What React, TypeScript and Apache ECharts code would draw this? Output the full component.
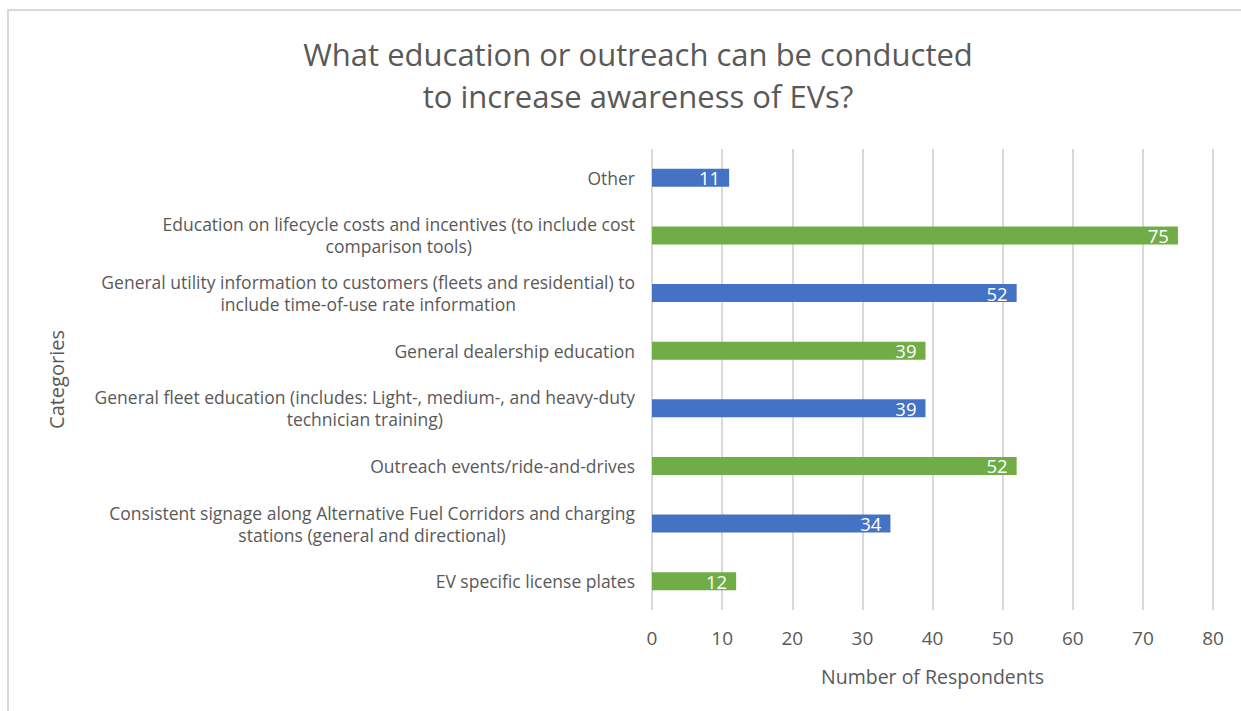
import React, { useEffect, useRef } from "react";
import * as echarts from "echarts";

// bottom to top (ECharts category axis starts at the bottom)
const categories: string[] = [
  "EV specific license plates",
  "Consistent signage along Alternative Fuel Corridors and charging\nstations (general and directional)",
  "Outreach events/ride-and-drives",
  "General fleet education (includes: Light-, medium-, and heavy-duty\ntechnician training)",
  "General dealership education",
  "General utility information to customers (fleets and residential) to\ninclude time-of-use rate information",
  "Education on lifecycle costs and incentives (to include cost\ncomparison tools)",
  "Other",
];
const values: number[] = [12, 34, 52, 39, 39, 52, 75, 11];
const barColors: string[] = ["#70AD47", "#4472C4", "#70AD47", "#4472C4", "#70AD47", "#4472C4", "#70AD47", "#4472C4"];
const xTicks = { min: 0, max: 80, interval: 10 };
const titleText = "What education or outreach can be conducted\nto increase awareness of EVs?";

const FONT = "'Open Sans', sans-serif";
const GRAY = "#595959";

export default function App() {
  const ref = useRef<HTMLDivElement>(null);
  useEffect(() => {
    if (!ref.current) return;
    const chart = echarts.init(ref.current, undefined, { renderer: "svg" });
    chart.setOption({
      animation: false,
      backgroundColor: "#ffffff",
      textStyle: { fontFamily: FONT },
      title: {
        text: titleText,
        left: 633,
        top: 28,
        textAlign: "center",
        textStyle: { fontSize: 31, fontWeight: "normal", color: GRAY, lineHeight: 42, fontFamily: FONT },
      },
      graphic: [
        {
          type: "rect",
          shape: { x: 8, y: 10, width: 1400, height: 900 },
          style: { fill: "none", stroke: "#d9d9d9", lineWidth: 2 },
          silent: true,
          z: -1,
        },
      ],
      grid: { left: 652, right: 28, top: 149, bottom: 101, containLabel: false },
      xAxis: {
        type: "value",
        min: xTicks.min,
        max: xTicks.max,
        interval: xTicks.interval,
        name: "Number of Respondents",
        nameLocation: "middle",
        nameGap: 56,
        nameTextStyle: { fontSize: 19.5, color: GRAY, fontFamily: FONT },
        axisLine: { show: false },
        axisTick: { show: false },
        axisLabel: { fontSize: 19, color: GRAY, margin: 18, fontFamily: FONT },
        splitLine: { show: true, lineStyle: { color: "#d9d9d9", width: 2 } },
      },
      yAxis: {
        type: "category",
        data: categories,
        name: "Categories",
        nameLocation: "middle",
        nameRotate: 90,
        nameGap: 586,
        nameTextStyle: { fontSize: 20, color: GRAY, fontFamily: FONT },
        axisLine: { show: false },
        axisTick: { show: false },
        axisLabel: {
          margin: 17,
          color: GRAY,
          fontSize: 17.5,
          fontFamily: FONT,
          formatter: (v: string) => v.split("\n").map((l) => `{c|${l}}`).join("\n"),
          rich: {
            c: { align: "center", fontSize: 17.5, color: GRAY, fontFamily: FONT, lineHeight: 22 },
          },
        },
      },
      series: [
        {
          type: "bar",
          barWidth: 18,
          data: values.map((v, i) => ({ value: v, itemStyle: { color: barColors[i] } })),
          label: {
            show: true,
            position: "insideRight",
            distance: 9,
            color: "#ffffff",
            fontSize: 18.5,
            fontFamily: FONT,
          },
        },
      ],
    });
    return () => chart.dispose();
  }, []);
  return (
    <div
      ref={ref}
      style={{ position: "absolute", left: 0, top: 0, width: 1241, height: 711 }}
    />
  );
}
